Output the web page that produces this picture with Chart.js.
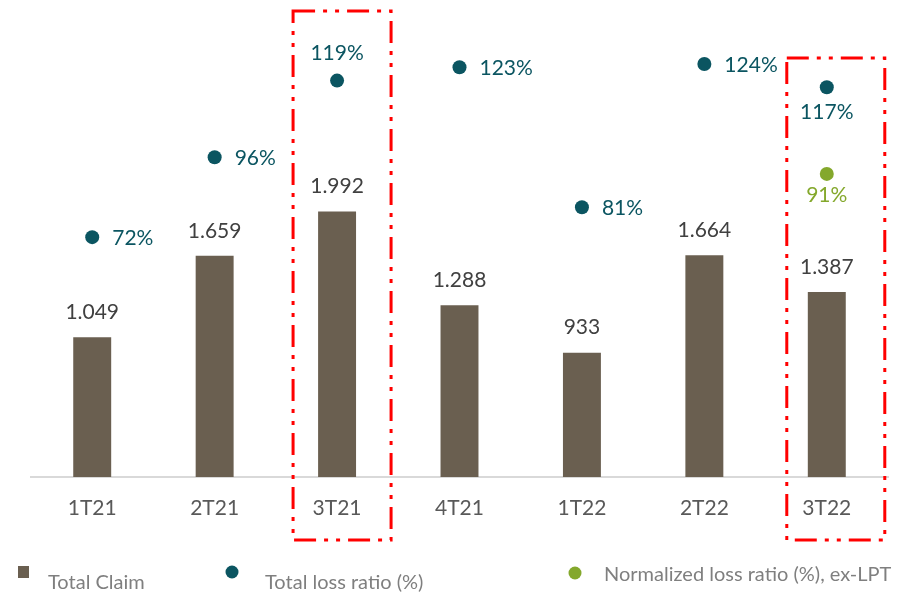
<!DOCTYPE html>
<html>
<head>
<meta charset="utf-8">
<script src="https://cdn.jsdelivr.net/npm/chart.js@4.4.1/dist/chart.umd.min.js"></script>
<style>
  html, body { margin: 0; padding: 0; background: #fff; }
  canvas { display: block; }
</style>
</head>
<body>
<canvas id="chart" width="897" height="598"></canvas>
<script>
const categories = ["1T21", "2T21", "3T21", "4T21", "1T22", "2T22", "3T22"];
const totalClaim = [1049, 1659, 1992, 1288, 933, 1664, 1387];
const totalLossRatio = [72, 96, 119, 123, 81, 124, 117];
const normalizedLossRatio = [null, null, null, null, null, null, 91];

const BAR_COLOR = "#6a5f50";
const TEAL = "#0b5561";
const GREEN = "#84a82c";
const FONT = "Lato, 'Open Sans', sans-serif";

// where each ratio label sits next to its dot
const ratioLabelPos = ["right", "right", "above", "right", "right", "right", "below"];

function fmtThousands(v) {
  return String(v).replace(/\B(?=(\d{3})+(?!\d))/g, ".");
}

const labelsPlugin = {
  id: "valueLabels",
  afterDatasetsDraw(chart) {
    const ctx = chart.ctx;
    ctx.save();
    ctx.font = "21px " + FONT;
    ctx.textBaseline = "middle";

    // bar values
    ctx.fillStyle = "#404040";
    ctx.textAlign = "center";
    chart.getDatasetMeta(0).data.forEach((bar, i) => {
      ctx.fillText(fmtThousands(totalClaim[i]), bar.x, bar.y - 25);
    });

    // total loss ratio
    ctx.fillStyle = TEAL;
    chart.getDatasetMeta(1).data.forEach((pt, i) => {
      const txt = totalLossRatio[i] + "%";
      const pos = ratioLabelPos[i];
      if (pos === "above") {
        ctx.textAlign = "center";
        ctx.fillText(txt, pt.x, pt.y - 27);
      } else if (pos === "below") {
        ctx.textAlign = "center";
        ctx.fillText(txt, pt.x, pt.y + 25);
      } else {
        ctx.textAlign = "left";
        ctx.fillText(txt, pt.x + 20, pt.y + 1);
      }
    });

    // normalized
    ctx.fillStyle = GREEN;
    ctx.textAlign = "center";
    chart.getDatasetMeta(2).data.forEach((pt, i) => {
      if (normalizedLossRatio[i] == null) return;
      ctx.fillText(normalizedLossRatio[i] + "%", pt.x, pt.y + 21);
    });
    ctx.restore();
  },
};

const framesPlugin = {
  id: "frames",
  afterDraw(chart, args, opts) {
    const ctx = chart.ctx;
    const x = chart.scales.x;
    ctx.save();
    ctx.strokeStyle = "#ff0000";
    ctx.lineWidth = 3;
    ctx.setLineDash([22, 8, 4, 8, 4, 8]);
    opts.boxes.forEach((b) => {
      const cx = x.getPixelForValue(b.index) + b.dx;
      ctx.strokeRect(cx - b.half, b.top, b.half * 2, b.bottom - b.top);
    });
    ctx.restore();
  },
};

const legendPlugin = {
  id: "bottomLegend",
  afterDraw(chart) {
    const ctx = chart.ctx;
    ctx.save();
    ctx.font = "20px " + FONT;
    ctx.textBaseline = "middle";
    ctx.textAlign = "left";

    ctx.fillStyle = BAR_COLOR;
    ctx.fillRect(18, 566, 11, 12);
    ctx.fillStyle = "#7f7f7f";
    ctx.fillText("Total Claim", 48, 583);

    ctx.fillStyle = TEAL;
    ctx.beginPath();
    ctx.arc(232, 572, 6.5, 0, Math.PI * 2);
    ctx.fill();
    ctx.fillStyle = "#7f7f7f";
    ctx.fillText("Total loss ratio (%)", 265, 583);

    ctx.fillStyle = GREEN;
    ctx.beginPath();
    ctx.arc(575, 573, 6.5, 0, Math.PI * 2);
    ctx.fill();
    ctx.fillStyle = "#7f7f7f";
    ctx.fillText("Normalized loss ratio (%), ex-LPT", 604, 575);
    ctx.restore();
  },
};

new Chart(document.getElementById("chart"), {
  type: "bar",
  data: {
    labels: categories,
    datasets: [
      {
        label: "Total Claim",
        data: totalClaim,
        backgroundColor: BAR_COLOR,
        barPercentage: 0.31,
        categoryPercentage: 1,
        yAxisID: "y",
        order: 2,
      },
      {
        label: "Total loss ratio (%)",
        type: "line",
        data: totalLossRatio,
        showLine: false,
        pointRadius: 7,
        pointBackgroundColor: TEAL,
        pointBorderWidth: 0,
        yAxisID: "y1",
        order: 1,
      },
      {
        label: "Normalized loss ratio (%), ex-LPT",
        type: "line",
        data: normalizedLossRatio,
        showLine: false,
        pointRadius: 7,
        pointBackgroundColor: GREEN,
        pointBorderWidth: 0,
        yAxisID: "y1",
        order: 1,
      },
    ],
  },
  options: {
    responsive: false,
    animation: false,
    layout: { padding: { left: 31, right: 9, top: 0, bottom: 0 } },
    scales: {
      x: {
        grid: { display: false, drawTicks: false },
        border: { display: true, color: "#d9d9d9", width: 2 },
        ticks: {
          color: "#595959",
          font: { family: FONT, size: 21 },
          padding: 19,
        },
        afterFit: (scale) => {
          scale.height = 121;
        },
      },
      y: { display: false, min: 0, max: 3526 },
      y1: { display: false, min: 0, max: 141.1 },
    },
    plugins: {
      legend: { display: false },
      tooltip: { enabled: false },
      frames: {
        boxes: [
          { index: 2, dx: 5, half: 49, top: 11, bottom: 540 },
          { index: 6, dx: 9, half: 49, top: 58, bottom: 540 },
        ],
      },
    },
  },
  plugins: [labelsPlugin, framesPlugin, legendPlugin],
});
</script>
</body>
</html>
